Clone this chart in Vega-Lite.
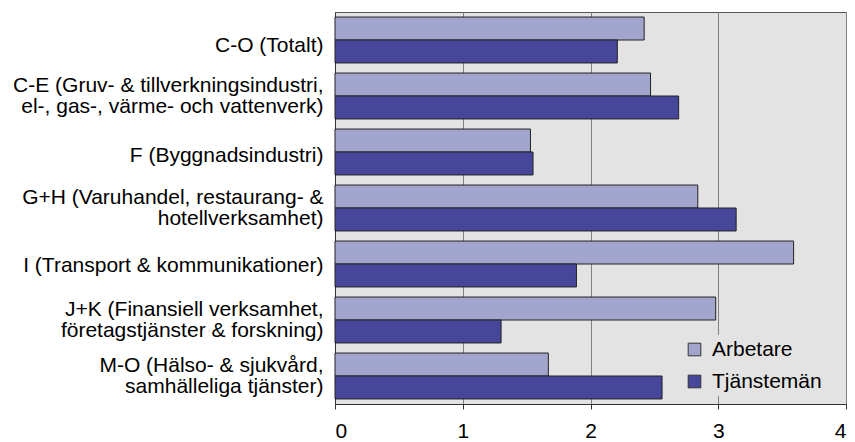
{
  "$schema": "https://vega.github.io/schema/vega-lite/v6.json",
  "autosize": "none",
  "width": 511,
  "height": 392,
  "padding": {"left": 335, "top": 12, "right": 9, "bottom": 38},
  "background": "white",
  "config": {
    "font": "Liberation Sans",
    "view": {"fill": "#E3E3E3", "stroke": "#555555", "strokeWidth": 1}
  },
  "data": {
    "values": [
      {"cat": "C-O (Totalt)", "series": "Arbetare", "value": 2.42},
      {"cat": "C-O (Totalt)", "series": "Tjänstemän", "value": 2.21},
      {"cat": "C-E (Gruv- & tillverkningsindustri,|el-, gas-, värme- och vattenverk)", "series": "Arbetare", "value": 2.47},
      {"cat": "C-E (Gruv- & tillverkningsindustri,|el-, gas-, värme- och vattenverk)", "series": "Tjänstemän", "value": 2.69},
      {"cat": "F (Byggnadsindustri)", "series": "Arbetare", "value": 1.53},
      {"cat": "F (Byggnadsindustri)", "series": "Tjänstemän", "value": 1.55},
      {"cat": "G+H (Varuhandel, restaurang- &|hotellverksamhet)", "series": "Arbetare", "value": 2.84},
      {"cat": "G+H (Varuhandel, restaurang- &|hotellverksamhet)", "series": "Tjänstemän", "value": 3.14},
      {"cat": "I (Transport & kommunikationer)", "series": "Arbetare", "value": 3.59},
      {"cat": "I (Transport & kommunikationer)", "series": "Tjänstemän", "value": 1.89},
      {"cat": "J+K (Finansiell verksamhet,|företagstjänster & forskning)", "series": "Arbetare", "value": 2.98},
      {"cat": "J+K (Finansiell verksamhet,|företagstjänster & forskning)", "series": "Tjänstemän", "value": 1.3},
      {"cat": "M-O (Hälso- & sjukvård,|samhälleliga tjänster)", "series": "Arbetare", "value": 1.67},
      {"cat": "M-O (Hälso- & sjukvård,|samhälleliga tjänster)", "series": "Tjänstemän", "value": 2.56}
    ]
  },
  "mark": {"type": "bar", "stroke": "#222222", "strokeWidth": 1, "opacity": 1},
  "encoding": {
    "y": {
      "field": "cat",
      "type": "nominal",
      "sort": null,
      "scale": {"paddingInner": 0.18, "paddingOuter": 0.09},
      "axis": {
        "title": null,
        "labelExpr": "split(datum.value, '|')",
        "labelFontSize": 21,
        "labelColor": "#000000",
        "labelLineHeight": 21,
        "labelOffset": {
          "condition": [
            {"test": "indexof(datum.value, '|') >= 0", "value": -10},
            {"test": "datum.value === 'C-O (Totalt)'", "value": 6},
            {"test": "datum.value === 'F (Byggnadsindustri)'", "value": 4},
            {"test": "datum.value === 'I (Transport & kommunikationer)'", "value": 2}
          ],
          "value": 0
        },
        "labelPadding": 12,
        "labelLimit": 400,
        "domainColor": "#333333",
        "ticks": false
      }
    },
    "yOffset": {"field": "series", "type": "nominal", "sort": ["Arbetare", "Tjänstemän"]},
    "x": {
      "field": "value",
      "type": "quantitative",
      "scale": {"domain": [0, 4], "nice": false},
      "axis": {
        "title": null,
        "values": [0, 1, 2, 3, 4],
        "format": "d",
        "labelFontSize": 21,
        "labelColor": "#000000",
        "labelPadding": 11,
        "gridColor": "#808080",
        "gridWidth": 1,
        "gridOpacity": 1,
        "domainColor": "#333333",
        "tickColor": "#333333",
        "tickSize": 5
      }
    },
    "color": {
      "field": "series",
      "type": "nominal",
      "scale": {"domain": ["Arbetare", "Tjänstemän"], "range": ["#A3A6CC", "#46479A"]},
      "legend": {
        "title": null,
        "orient": "none",
        "legendX": 345,
        "legendY": 323,
        "fillColor": "#E3E3E3",
        "padding": 4,
        "symbolType": "square",
        "symbolSize": 160,
        "symbolStrokeColor": "#333333",
        "symbolStrokeWidth": 1,
        "symbolOpacity": 1,
        "labelFontSize": 21,
        "labelColor": "#000000",
        "labelOffset": 7,
        "rowPadding": 10
      }
    }
  }
}
